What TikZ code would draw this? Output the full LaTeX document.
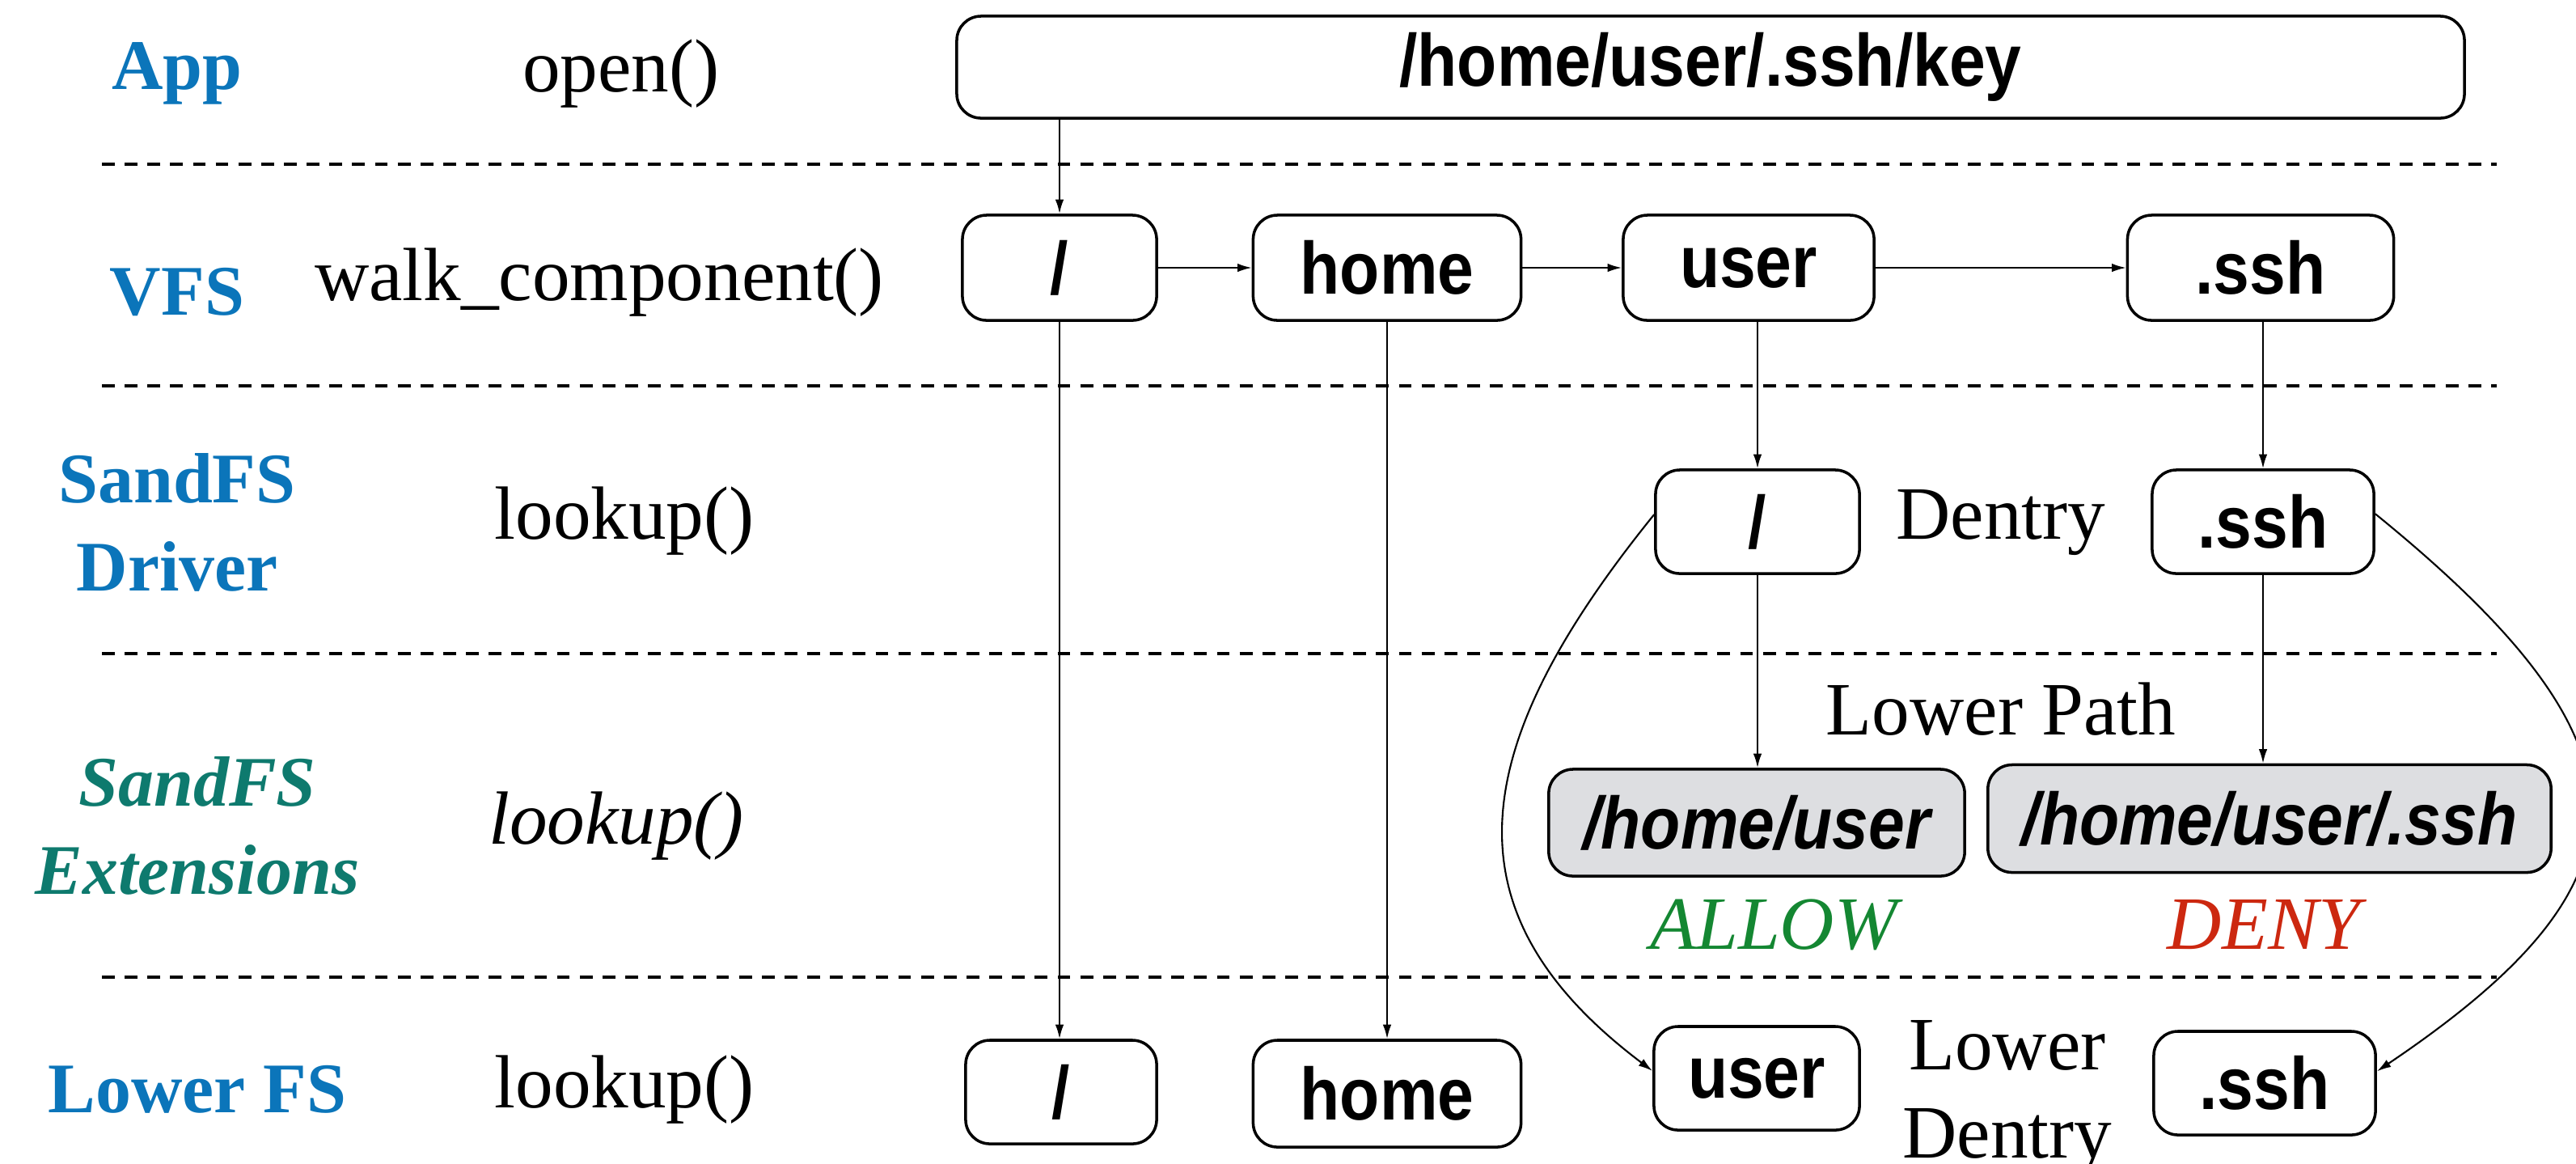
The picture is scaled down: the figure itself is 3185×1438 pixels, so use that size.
\documentclass[tikz,border=0pt]{standalone}
\usepackage{fontspec}
\setmainfont{Liberation Serif}
\newfontfamily\boxfont{Liberation Sans}[FakeStretch=0.88]
\usetikzlibrary{arrows.meta}
\definecolor{layerblue}{RGB}{11,117,186}
\definecolor{extteal}{RGB}{14,122,110}
\definecolor{allowgreen}{RGB}{20,135,50}
\definecolor{denyred}{RGB}{204,40,16}
\definecolor{pathgray}{RGB}{221,222,225}
\begin{document}
\begin{tikzpicture}[x=0.01cm, y=-0.01cm, ->, >={Latex[length=5pt,width=3pt]}, line width=0.6pt,
    dentry node/.style={draw, -, rounded corners=0.3cm, line width=1pt, minimum height=1.3cm,
      font=\boxfont\fontsize{26}{30}\selectfont\bfseries},
    path node/.style={dentry node, fill=pathgray,
      font=\boxfont\fontsize{26}{30}\selectfont\bfseries\itshape},
    layer node/.style={text=layerblue, font=\fontsize{25}{31}\selectfont\bfseries},
    ext node/.style={text=extteal, font=\fontsize{25}{31}\selectfont\bfseries\itshape},
    verdict/.style={font=\fontsize{26.5}{31}\selectfont\itshape},
    sep/.style={-, dash pattern=on 4.5pt off 3.5pt, line width=0.9pt}]
  \tikzstyle{every node}=[font=\fontsize{26.5}{31}\selectfont]
  \useasboundingbox (0,0) rectangle (3185,1438);

  \foreach \y in {203,477,808,1208}
    \draw[sep] (126,\y) -- (3087,\y);

  % App
  \node[layer node] (app) at (219,91) {App};
  \node (openc) at (768,91) {open()};
  \node[dentry node, minimum width=18.63cm, minimum height=1.26cm] (0) at (2115,83) {/home/user/.ssh/key};

  % VFS
  \node[layer node] (vfs) at (219,361) {VFS};
  \node (walkc) at (741,349) {walk\_component()};
  \node[dentry node, minimum width=2.40cm] (1) at (1310,331) {/};
  \node[dentry node, minimum width=3.31cm] (2) at (1715,331) {home};
  \node[dentry node, minimum width=3.10cm] (3) at (2162,331) {user};
  \node[dentry node, minimum width=3.29cm] (4) at (2795,331) {.ssh};

  % SandFS driver
  \node[layer node, align=center] (drv) at (219,646) {SandFS\\Driver};
  \node (drvc) at (772,644) {lookup()};
  \node[dentry node, minimum width=2.52cm, minimum height=1.28cm] (5) at (2173,645) {/};
  \node (dlabel) at (2474,646) {Dentry};
  \node[dentry node, minimum width=2.74cm, minimum height=1.28cm] (6) at (2798,645) {.ssh};

  % SandFS extensions
  \node[ext node, align=center] (ext) at (244,1021) {SandFS\\Extensions};
  \node[verdict] (extc) at (762,1021) {lookup()};
  \node (plabel) at (2474,877) {Lower Path};
  \node[path node, minimum width=5.14cm, minimum height=1.32cm] (7) at (2172,1017) {/home/user};
  \node[path node, minimum width=6.96cm, minimum height=1.33cm] (8) at (2806,1012) {/home/user/.ssh};
  \node[verdict, text=allowgreen] (allow) at (2193,1143) {ALLOW};
  \node[verdict, text=denyred] (deny) at (2799,1143) {DENY};

  % Lower FS
  \node[layer node] (low) at (244,1347) {Lower FS};
  \node (lowc) at (772,1347) {lookup()};
  \node[dentry node, minimum width=2.36cm, minimum height=1.28cm] (9) at (1312,1350) {/};
  \node[dentry node, minimum width=3.31cm, minimum height=1.32cm] (10) at (1715,1352) {home};
  \node[dentry node, minimum width=2.54cm, minimum height=1.28cm] (11) at (2172,1333) {user};
  \node[dentry node, minimum width=2.74cm, minimum height=1.28cm] (12) at (2800,1339) {.ssh};
  \node[align=center] (ldlabel) at (2482,1357) {Lower\\Dentry};

  \path (1) edge (2)
        (2) edge (3)
        (3) edge (4);
  \draw (0.south -| 1) -- (1);
  \draw (1.south) -- (1.south |- 9.north);
  \draw (2.south) -- (2.south |- 10.north);
  \draw (5.north |- 3.south) -- (5);
  \draw (6.north |- 4.south) -- (6);
  \draw (5) -- (5 |- 7.north);
  \draw (6) -- (6 |- 8.north);
  \draw (5.176) .. controls +(-238,294) and +(-256,-193) .. (11.176);
  \draw (6.4) .. controls +(356,289) and +(349,-235) .. (12.6);
\end{tikzpicture}
\end{document}
